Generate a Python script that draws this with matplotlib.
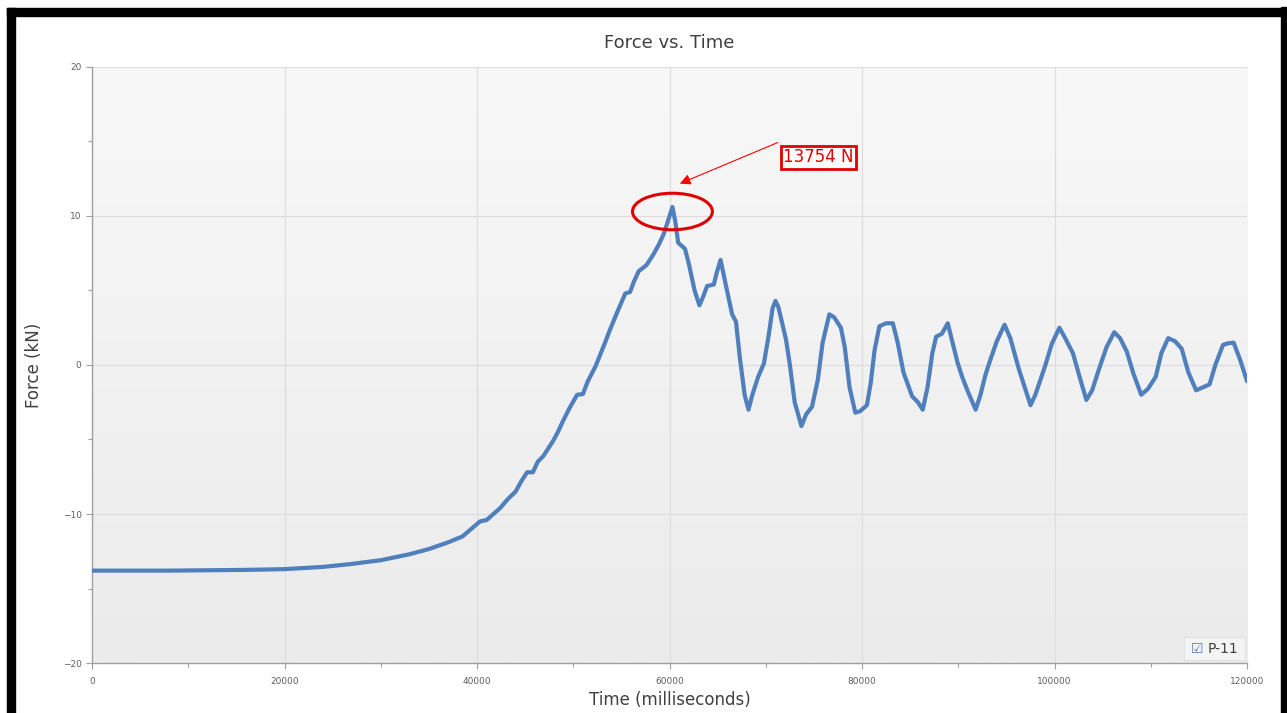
# force vs time plot for P-11
import numpy as np
import matplotlib
matplotlib.use('Agg')
from matplotlib import pyplot as plt
from matplotlib.patches import Ellipse, Rectangle
from matplotlib.colors import LinearSegmentedColormap

# time in milliseconds, force in kN
time_ms = [0, 8000, 16000, 20000, 24000, 27000, 30000, 33000, 35000, 37000,
           38500, 40300, 41000, 41700, 42400, 43200, 44000, 44600, 45200, 45800,
           46300, 46900, 47400, 47900, 48400, 48900, 49600, 50400, 51000, 51500,
           51900, 52300, 52800, 53300, 53800, 54600, 55400, 55900, 56300, 56800,
           57600, 58300, 58900, 59400, 59900, 60300, 60600, 60900, 61600, 62000,
           62600, 63100, 63500, 63900, 64600, 64900, 65300, 65800, 66500, 66900,
           67300, 67800, 68200, 68600, 69200, 69800, 70300, 70700, 71000, 71300,
           71700, 72100, 72500, 73000, 73700, 74200, 74800, 75400, 75900, 76600,
           77100, 77800, 78200, 78700, 79300, 79800, 80500, 80900, 81300, 81800,
           82500, 83200, 83700, 84300, 85200, 85800, 86300, 86800, 87300, 87700,
           88300, 88900, 89400, 89900, 90400, 91000, 91800, 92300, 92800, 93300,
           94000, 94800, 95400, 96300, 96900, 97500, 98000, 99000, 99700, 100500,
           101100, 101900, 102600, 103300, 103900, 104600, 105400, 106200, 106800, 107500,
           108200, 109000, 109700, 110500, 111100, 111800, 112500, 113200, 113900, 114700,
           115400, 116100, 116700, 117500, 118000, 118600, 119300, 120000]
force_kN = [-13.8, -13.8, -13.75, -13.7, -13.55, -13.35, -13.1, -12.7, -12.35, -11.9,
            -11.5, -10.5, -10.4, -10.0, -9.6, -9.0, -8.5, -7.8, -7.2, -7.2,
            -6.5, -6.1, -5.6, -5.1, -4.5, -3.8, -2.9, -2.0, -1.95, -1.1,
            -0.6, -0.1, 0.7, 1.5, 2.35, 3.6, 4.8, 4.9, 5.6, 6.3,
            6.7, 7.4, 8.1, 8.8, 9.8, 10.6, 9.6, 8.2, 7.8, 6.8,
            5.0, 4.0, 4.6, 5.3, 5.4, 6.2, 7.05, 5.5, 3.4, 2.9,
            0.5, -2.0, -3.0, -2.0, -0.8, 0.1, 2.0, 3.8, 4.3, 3.9,
            2.8, 1.7, 0.0, -2.5, -4.1, -3.3, -2.8, -1.0, 1.5, 3.4,
            3.2, 2.5, 1.2, -1.5, -3.2, -3.1, -2.7, -1.2, 1.0, 2.6,
            2.8, 2.8, 1.5, -0.5, -2.1, -2.5, -3.0, -1.5, 0.8, 1.9,
            2.1, 2.8, 1.5, 0.2, -0.8, -1.8, -3.0, -2.0, -0.7, 0.3,
            1.6, 2.7, 1.8, -0.3, -1.5, -2.7, -2.0, -0.1, 1.4, 2.5,
            1.8, 0.8, -0.8, -2.35, -1.7, -0.3, 1.2, 2.2, 1.8, 0.9,
            -0.6, -2.0, -1.6, -0.8, 0.8, 1.8, 1.6, 1.1, -0.5, -1.7,
            -1.5, -1.3, 0.0, 1.35, 1.45, 1.5, 0.3, -1.1]
x_ticks = [0, 20000, 40000, 60000, 80000, 100000, 120000]
y_ticks = [-20, -10, 0, 10, 20]
series_name = 'P-11'
peak_label = '13754 N'
peak_time = 60300

fig = plt.figure(figsize=(12.87, 7.13), dpi=100)
ax = fig.add_axes([0.0715, 0.0701, 0.8975, 0.836])

# light gray gradient behind the plot
grad = LinearSegmentedColormap.from_list('bg', ['#ebebeb', '#f8f8f8'])
ax.imshow(np.linspace(0, 1, 256).reshape(-1, 1), cmap=grad, aspect='auto',
          extent=[0, 1, 0, 1], transform=ax.transAxes, origin='lower', zorder=0)

ax.plot(time_ms, force_kN, color='#4f7fbc', lw=3, solid_joinstyle='round',
        solid_capstyle='round', zorder=3)

ax.set_xlim(0, 120000)
ax.set_ylim(-20, 20)
ax.set_xticks(x_ticks)
ax.set_xticklabels([str(t) for t in x_ticks])
ax.set_yticks(y_ticks)
ax.set_xticks([10000, 30000, 50000, 70000, 90000, 110000], minor=True)
ax.set_yticks([-15, -5, 5, 15], minor=True)
ax.tick_params(axis='both', which='major', labelsize=6.5, labelcolor='#606060',
               color='#a0a0a0', length=4, width=0.8)
ax.tick_params(axis='both', which='minor', color='#a0a0a0', length=3, width=0.8)
ax.tick_params(axis='x', pad=6)
ax.grid(True, color='#dcdcdc', lw=0.8, zorder=1)
for s in ['top', 'right']:
    ax.spines[s].set_visible(False)
for s in ['left', 'bottom']:
    ax.spines[s].set_color('#a0a0a0')
    ax.spines[s].set_linewidth(1)

ax.set_title('Force vs. Time', fontsize=13, color='#404040', pad=14)
ax.set_xlabel('Time (milliseconds)', fontsize=12, color='#404040', labelpad=4)
ax.set_ylabel('Force (kN)', fontsize=12, color='#404040', labelpad=14)

# red annotation around the peak
ax.add_patch(Ellipse((peak_time, 10.3), 8300, 2.45, fill=False, edgecolor='#e00000',
                     lw=2.2, zorder=5))
ax.annotate('', xy=(60800, 12.1), xytext=(71500, 15.0),
            arrowprops=dict(arrowstyle='-|>', color='#ff0000', lw=0.8,
                            mutation_scale=16), zorder=6)
ax.text(71800, 13.95, peak_label, fontsize=12, color='#e00000', va='center', ha='left',
        bbox=dict(boxstyle='square,pad=0.15', fc='white', ec='#e00000', lw=2), zorder=6)

# legend box in the corner
ax.add_patch(Rectangle((0.9455, 0.005), 0.053, 0.038, transform=ax.transAxes,
                       fc='#f4f4f4', ec='#e2e2e2', lw=0.8, zorder=6))
ax.text(0.951, 0.024, '\u2611', transform=ax.transAxes, fontsize=10,
        color='#5b7fb5', va='center', ha='left', zorder=7)
ax.text(0.966, 0.024, series_name, transform=ax.transAxes, fontsize=10,
        color='#404040', va='center', ha='left', zorder=7)

# black frame around the screenshot
frame = dict(transform=fig.transFigure, color='black', zorder=10)
fig.patches.append(Rectangle((7 / 1287, 0), 8 / 1287, 1 - 8 / 713, **frame))
fig.patches.append(Rectangle((7 / 1287, 1 - 16 / 713), 1275 / 1287, 8 / 713, **frame))
fig.patches.append(Rectangle((1281 / 1287, 0), 5 / 1287, 1 - 7 / 713, **frame))

plt.savefig('out.png', dpi=100)
